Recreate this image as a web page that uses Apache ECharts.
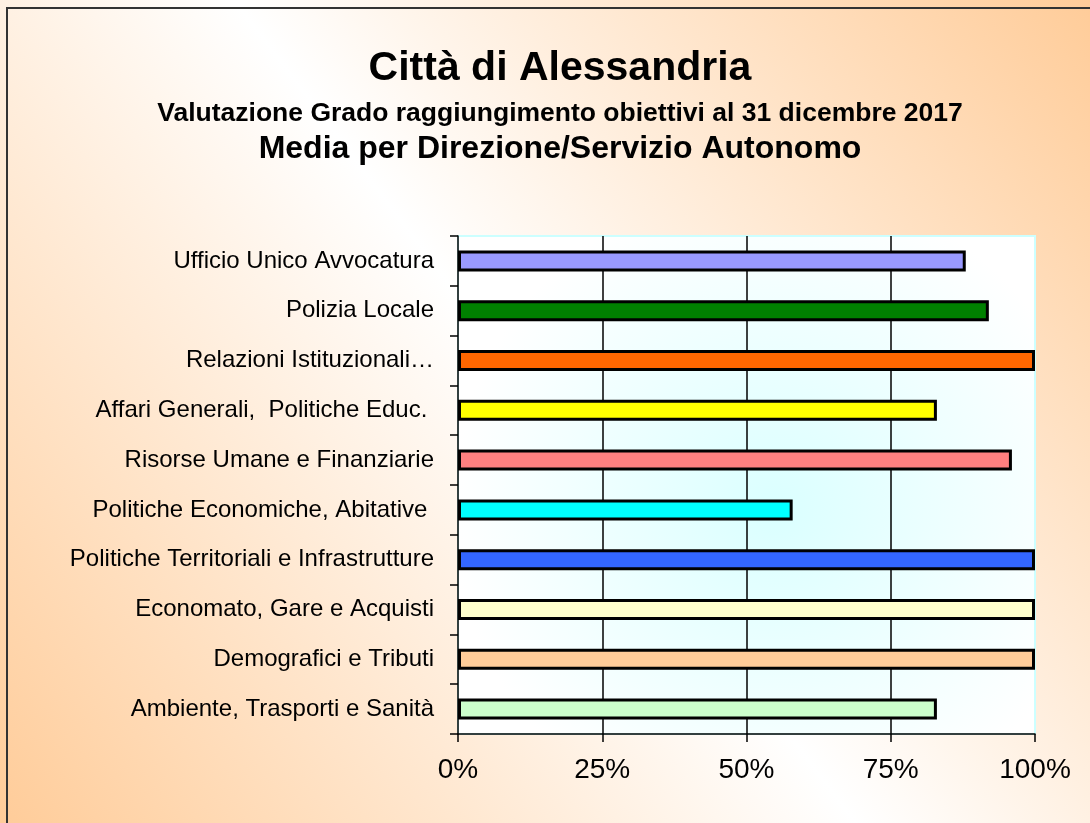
<!DOCTYPE html>
<html>
<head>
<meta charset="utf-8">
<title>Città di Alessandria</title>
<script src="https://cdn.jsdelivr.net/npm/echarts@6/dist/echarts.min.js"></script>
<style>
  html, body { margin: 0; padding: 0; }
  #chart { width: 1090px; height: 823px; }
</style>
</head>
<body>
<div id="chart"></div>
<script>
// direzioni, dall'alto verso il basso
const categories = [
  'Ufficio Unico Avvocatura',
  'Polizia Locale',
  'Relazioni Istituzionali…',
  'Affari Generali,  Politiche Educ. ',
  'Risorse Umane e Finanziarie',
  'Politiche Economiche, Abitative ',
  'Politiche Territoriali e Infrastrutture',
  'Economato, Gare e Acquisti',
  'Demografici e Tributi',
  'Ambiente, Trasporti e Sanità'
]
// media grado raggiungimento (%)
const values = [88, 92, 100, 83, 96, 58, 100, 100, 100, 83]
const barColors = ['#9999FF', '#008000', '#FF6600', '#FFFF00', '#FF8080',
  '#00FFFF', '#3366FF', '#FFFFCC', '#FFCC99', '#CCFFCC']
const xTicks = [0, 25, 50, 75, 100]

const chart = echarts.init(document.getElementById('chart'))

const font = ['Liberation Sans', 'Arial', 'sans-serif']

var option = {
  backgroundColor: {
    type: 'linear', x: 0, y: 1, x2: 1, y2: 0,
    colorStops: [
      { offset: 0, color: '#FFCC99' },
      { offset: 0.5, color: '#FFFFFF' },
      { offset: 1, color: '#FFCC99' }
    ]
  },
  title: [
    {
      text: 'Città di Alessandria',
      left: 555, top: 43, textAlign: 'center',
      textStyle: { fontSize: 41, fontWeight: 'bold', color: '#000', fontFamily: font }
    },
    {
      text: 'Valutazione Grado raggiungimento obiettivi al 31 dicembre 2017',
      left: 555, top: 95, textAlign: 'center',
      textStyle: { fontSize: 26.5, fontWeight: 'bold', color: '#000', fontFamily: font }
    },
    {
      text: 'Media per Direzione/Servizio Autonomo',
      left: 555, top: 128, textAlign: 'center',
      textStyle: { fontSize: 32, fontWeight: 'bold', color: '#000', fontFamily: font }
    }
  ],
  graphic: [
    {
      type: 'rect',
      shape: { x: 7, y: 8, width: 1100, height: 840 },
      style: { fill: 'none', stroke: '#333', lineWidth: 2 },
      silent: true
    }
  ],
  grid: {
    left: 458, right: 55, top: 236, bottom: 89,
    show: true,
    borderColor: '#CCFFFF',
    borderWidth: 2,
    backgroundColor: {
      type: 'radial', x: 0.55, y: 0.55, r: 0.65,
      colorStops: [
        { offset: 0, color: '#DAFFFF' },
        { offset: 1, color: '#FFFFFF' }
      ]
    }
  },
  xAxis: {
    type: 'value',
    min: xTicks[0],
    max: xTicks[xTicks.length - 1],
    interval: 25,
    axisLine: { show: true, lineStyle: { color: '#000', width: 1.5 } },
    axisTick: { show: true, length: 8, lineStyle: { color: '#000', width: 1.5 } },
    splitLine: { show: true, showMinLine: false, showMaxLine: false, lineStyle: { color: '#000', width: 1.5 } },
    axisLabel: {
      formatter: '{value}%',
      color: '#000',
      fontSize: 28,
      margin: 22,
      fontFamily: font
    }
  },
  yAxis: {
    type: 'category',
    inverse: true,
    data: categories,
    axisLine: { show: true, lineStyle: { color: '#000', width: 1.5 } },
    axisTick: { show: true, length: 8, lineStyle: { color: '#000', width: 1.5 } },
    axisLabel: {
      color: '#000',
      fontSize: 24,
      margin: 24,
      fontFamily: font
    }
  },
  series: [
    {
      type: 'bar',
      barWidth: 21,
      data: values.map((v, i) => ({
        value: v,
        itemStyle: { color: barColors[i] }
      })),
      itemStyle: { borderColor: '#000', borderWidth: 3 },
      emphasis: { disabled: true }
    }
  ]
}
chart.setOption(option)
</script>
</body>
</html>
